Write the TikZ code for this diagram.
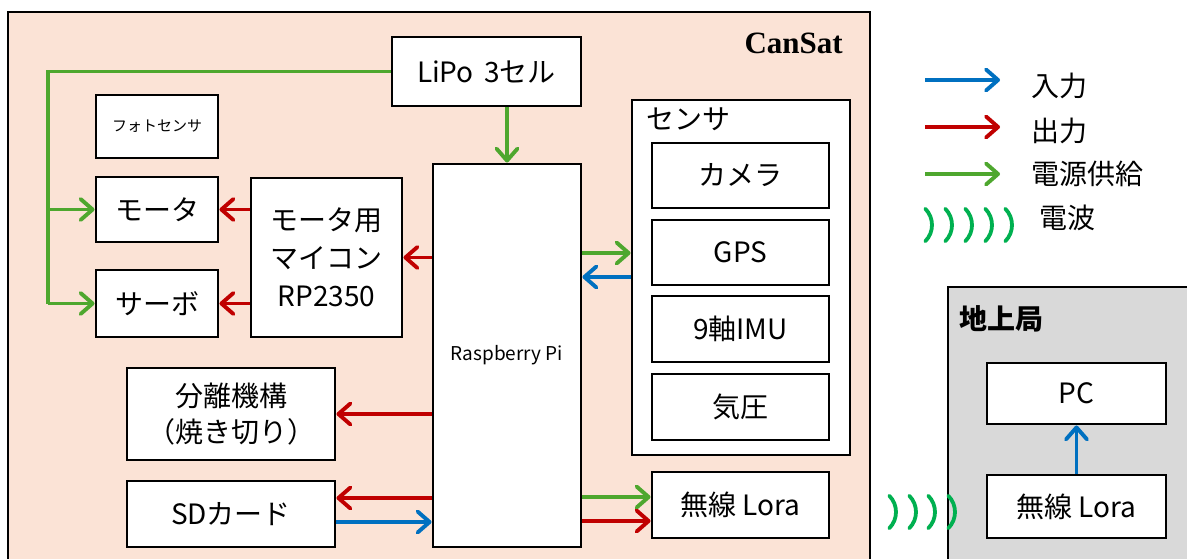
\documentclass[tikz,border=0pt]{standalone}
\usepackage{fontspec}
\setmainfont{Noto Sans CJK JP}
\newfontfamily\serifb{Liberation Serif}
\usetikzlibrary{arrows.meta}
\definecolor{peach}{HTML}{FBE3D6}
\definecolor{gsgray}{HTML}{D9D9D9}
\definecolor{inblue}{HTML}{0070C0}
\definecolor{outred}{HTML}{C00000}
\definecolor{pwrgreen}{HTML}{4EA72E}
\definecolor{wavegreen}{HTML}{00B050}
\begin{document}
\begin{tikzpicture}[x=1pt,y=-1pt,
  box/.style={draw=black,line width=2.9pt,fill=white,inner sep=0pt,align=center,
    font=\fontsize{28}{38}\selectfont},
  conn/.style={line width=3.9pt,-{Straight Barb[length=12pt,width=21pt,line width=0pt 1,round]}},
  garr/.style={conn,draw=pwrgreen},
  rarr/.style={conn,draw=outred},
  barr/.style={conn,draw=inblue},
  gline/.style={line width=3.9pt,draw=pwrgreen},
  wave/.style={line width=3.8pt,draw=wavegreen,line cap=round},
  wv/.pic={\draw[wave] (-45:23) arc[start angle=-45,end angle=45,radius=23];},
  lbl/.style={font=\fontsize{28}{30}\selectfont,inner sep=0pt}]
\useasboundingbox (0,0) rectangle (1187,558);
\begin{scope}
\clip (0,0) rectangle (1187,558);
\draw[line width=2.9pt,fill=peach] (8,12) rectangle (870,590);
\draw[line width=2.9pt,fill=gsgray] (948,287) rectangle (1210,590);
\end{scope}
\node[font=\serifb\bfseries\fontsize{31}{31}\selectfont,anchor=base east,inner sep=0pt] (cansat) at (843,53) {CanSat};
\node[font=\bfseries\fontsize{28}{30}\selectfont,anchor=base west,inner sep=0pt] (gslabel) at (959,329) {地上局};

% CanSat boxes
\node[box,minimum width=189pt,minimum height=69pt] (lipo) at (486.5,71.5) {LiPo\hspace{0.15em} 3セル};
\node[box,minimum width=122pt,minimum height=63pt,font=\fontsize{15}{17}\selectfont] (photo) at (157,126.5) {フォトセンサ};
\node[box,minimum width=122pt,minimum height=65pt] (motor) at (157,209.5) {モータ};
\node[box,minimum width=122pt,minimum height=67pt] (servo) at (157,303.5) {サーボ};
\node[box,minimum width=151pt,minimum height=159pt] (mcu) at (326.5,257.5) {モータ用\\マイコン\\RP2350};
\node[box,minimum width=148pt,minimum height=383pt,font=\fontsize{19}{21}\selectfont] (rpi) at (507,355.5) {Raspberry Pi};
\node[box,minimum width=218pt,minimum height=355pt] (sensor) at (741,277.5) {};
\node[lbl,anchor=base west] (senslabel) at (646,129) {センサ};
\node[box,minimum width=177pt,minimum height=65pt] (camera) at (740.5,175.5) {カメラ};
\node[box,minimum width=177pt,minimum height=65pt] (gps) at (740.5,252.5) {GPS};
\node[box,minimum width=177pt,minimum height=66pt] (imu) at (740.5,329) {9軸IMU};
\node[box,minimum width=177pt,minimum height=66pt] (baro) at (740.5,407) {気圧};
\node[box,minimum width=177pt,minimum height=66pt] (lora1) at (740.5,505) {無線 Lora};
\node[box,minimum width=208pt,minimum height=92pt,font=\fontsize{28}{36}\selectfont] (sep) at (231,414) {分離機構\\（焼き切り）};
\node[box,minimum width=208pt,minimum height=66pt] (sd) at (231,514) {SDカード};

% ground station
\node[box,minimum width=179pt,minimum height=61pt] (pc) at (1076.5,393.5) {PC};
\node[box,minimum width=179pt,minimum height=63pt] (lora2) at (1076.5,506.5) {無線 Lora};

% power
\coordinate (bm) at (48,209.5);
\coordinate (bs) at (48,303.5);
\draw[gline,line join=miter] (lipo.west) -| (bs);
\draw[garr] (bm) -- (motor.west);
\draw[garr] (bs) -- (servo.west);
\draw[garr] (rpi.north |- lipo.south) -- (rpi.north);

% outputs
\draw[rarr] (mcu.west |- motor) -- (motor.east);
\draw[rarr] (mcu.west |- servo) -- (servo.east);
\draw[rarr] (rpi.west |- mcu) -- (mcu.east);
\draw[rarr] (rpi.west |- sep) -- (sep.east);
\draw[rarr] (rpi.west |- 0,498) -- (sd.east |- 0,498);
\draw[barr] (sd.east |- 0,522) -- (rpi.west |- 0,522);
\draw[garr] (rpi.east |- 0,253) -- (sensor.west |- 0,253);
\draw[barr] (sensor.west |- 0,277) -- (rpi.east |- 0,277);
\draw[garr] (rpi.east |- 0,497) -- (lora1.west |- 0,497);
\draw[rarr] (rpi.east |- 0,521) -- (lora1.west |- 0,521);
\draw[barr] (lora2.north) -- (pc.south);

% radio link
\foreach \xc in {893,913,932,952} \pic at (\xc-20,512) {wv};

% legend
\coordinate (l1a) at (925,80); \coordinate (l1b) at (1000,80);
\coordinate (l2a) at (925,127); \coordinate (l2b) at (1000,127);
\coordinate (l3a) at (925,174); \coordinate (l3b) at (1000,174);
\draw[barr] (l1a) -- (l1b);
\draw[rarr] (l2a) -- (l2b);
\draw[garr] (l3a) -- (l3b);
\foreach \xc in {929,949,969,989,1009} \pic at (\xc-20,225) {wv};
\node[lbl,anchor=west] (t1) at (1031,86) {入力};
\node[lbl,anchor=west] (t2) at (1031,131) {出力};
\node[lbl,anchor=west] (t3) at (1031,174) {電源供給};
\node[lbl,anchor=west] (t4) at (1039,218) {電波};
\end{tikzpicture}
\end{document}
